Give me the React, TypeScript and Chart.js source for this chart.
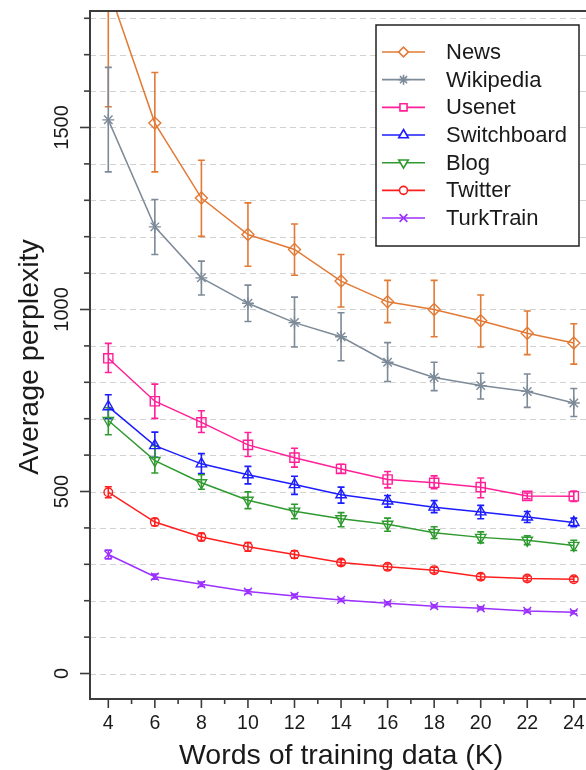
import React, { useEffect, useRef } from "react";
import { Chart, registerables } from "chart.js";
import * as helpers from "chart.js/helpers";

Chart.register(...registerables);

const xValues = [4, 6, 8, 10, 12, 14, 16, 18, 20, 22, 24];
const seriesNames = ["News", "Wikipedia", "Usenet", "Switchboard", "Blog", "Twitter", "TurkTrain"];

const newsMean = [1884, 1512, 1306, 1206, 1165, 1078, 1021, 1000, 969, 935, 908];
const newsLow = [1557, 1378, 1201, 1119, 1094, 1007, 964, 925, 897, 876, 850];
const newsHigh = [2210, 1651, 1410, 1293, 1235, 1151, 1080, 1080, 1040, 996, 961];

const wikiMean = [1521, 1227, 1087, 1017, 964, 925, 855, 813, 791, 775, 743];
const wikiLow = [1378, 1151, 1040, 967, 897, 859, 802, 777, 754, 731, 706];
const wikiHigh = [1665, 1302, 1133, 1067, 1034, 991, 909, 855, 825, 823, 783];

const usenetMean = [866, 748, 690, 628, 593, 562, 533, 524, 512, 488, 487];
const usenetLow = [827, 701, 662, 596, 567, 550, 510, 508, 483, 480, 473];
const usenetHigh = [907, 795, 722, 662, 619, 575, 555, 543, 537, 496, 501];

const switchMean = [733, 626, 576, 546, 519, 491, 474, 457, 444, 430, 415];
const switchLow = [700, 594, 549, 521, 492, 468, 457, 442, 425, 415, 403];
const switchHigh = [766, 663, 604, 569, 542, 512, 489, 475, 462, 445, 427];

const blogMean = [695, 585, 524, 476, 446, 425, 410, 387, 374, 366, 352];
const blogLow = [656, 551, 506, 453, 425, 403, 391, 371, 359, 354, 338];
const blogHigh = [730, 626, 546, 499, 465, 442, 427, 403, 389, 378, 366];

const twitterMean = [498, 416, 375, 348, 327, 305, 293, 284, 266, 261, 259];
const twitterLow = [483, 406, 365, 336, 317, 297, 285, 276, 258, 254, 252];
const twitterHigh = [513, 426, 385, 360, 337, 313, 301, 292, 274, 268, 266];

const turkMean = [327, 266, 245, 225, 213, 202, 193, 185, 179, 172, 168];
const turkLow = [315, 259, 239, 220, 208, 198, 189, 181, 175, 168, 164];
const turkHigh = [339, 273, 251, 230, 218, 206, 197, 189, 183, 176, 172];

const yTickLabels = [0, 500, 1000, 1500];
const yMinorTicks = [0, 100, 200, 300, 400, 500, 600, 700, 800, 900, 1000, 1100, 1200, 1300, 1400, 1500, 1600, 1700, 1800];
const xTickLabels = [4, 6, 8, 10, 12, 14, 16, 18, 20, 22, 24];
const xMinorTicks = [5, 7, 9, 11, 13, 15, 17, 19, 21, 23];

const xTitle = "Words of training data (K)";
const yTitle = "Average perplexity";

const FONT = "'Liberation Sans', Arial, Helvetica, sans-serif";

type Style = { color: string; pointStyle: string; rotation: number; radius: number; legendRadius: number };
const styles: Style[] = [
  { color: "#e27a36", pointStyle: "rectRot", rotation: 0, radius: 6, legendRadius: 4.8 },
  { color: "#7d8a98", pointStyle: "star", rotation: 0, radius: 6, legendRadius: 5 },
  { color: "#ff1f96", pointStyle: "rect", rotation: 0, radius: 6.5, legendRadius: 5 },
  { color: "#1c1cff", pointStyle: "triangle", rotation: 0, radius: 6, legendRadius: 5.5 },
  { color: "#2f9a2f", pointStyle: "triangle", rotation: 180, radius: 6, legendRadius: 5.5 },
  { color: "#ff1e1e", pointStyle: "circle", rotation: 0, radius: 4.3, legendRadius: 4 },
  { color: "#9b30ff", pointStyle: "crossRot", rotation: 0, radius: 5.5, legendRadius: 5.5 },
];

const means = [newsMean, wikiMean, usenetMean, switchMean, blogMean, twitterMean, turkMean];
const lows = [newsLow, wikiLow, usenetLow, switchLow, blogLow, twitterLow, turkLow];
const highs = [newsHigh, wikiHigh, usenetHigh, switchHigh, blogHigh, twitterHigh, turkHigh];

const decorPlugin = {
  id: "decor",
  beforeDatasetsDraw(chart: any) {
    const { ctx, chartArea: a, scales } = chart;
    const x = scales.x;
    const y = scales.y;
    ctx.save();
    // dashed gridlines
    ctx.strokeStyle = "#d2d2d2";
    ctx.lineWidth = 1;
    ctx.setLineDash([6, 4]);
    for (const v of yMinorTicks) {
      const py = Math.round(y.getPixelForValue(v)) + 0.5;
      ctx.beginPath();
      ctx.moveTo(a.left, py);
      ctx.lineTo(a.right, py);
      ctx.stroke();
    }
    ctx.setLineDash([]);
    // error bars
    ctx.beginPath();
    ctx.rect(a.left, a.top, a.right - a.left, a.bottom - a.top);
    ctx.clip();
    chart.data.datasets.forEach((ds: any) => {
      ctx.strokeStyle = ds.borderColor;
      ctx.lineWidth = 1.6;
      ds.data.forEach((pt: any, i: number) => {
        const px = x.getPixelForValue(pt.x);
        const pl = y.getPixelForValue(ds.errLow[i]);
        const ph = y.getPixelForValue(ds.errHigh[i]);
        ctx.beginPath();
        ctx.moveTo(px, pl);
        ctx.lineTo(px, ph);
        ctx.moveTo(px - 3.5, pl);
        ctx.lineTo(px + 3.5, pl);
        ctx.moveTo(px - 3.5, ph);
        ctx.lineTo(px + 3.5, ph);
        ctx.stroke();
      });
    });
    ctx.restore();
  },
  afterDatasetsDraw(chart: any) {
    const { ctx, chartArea: a, scales } = chart;
    const x = scales.x;
    const y = scales.y;
    ctx.save();
    // frame
    ctx.strokeStyle = "#3c3c3c";
    ctx.lineWidth = 2;
    ctx.beginPath();
    ctx.rect(a.left, a.top, a.right - a.left, a.bottom - a.top);
    ctx.stroke();
    // y ticks
    ctx.lineWidth = 1.6;
    for (const v of yMinorTicks) {
      const py = y.getPixelForValue(v);
      const len = yTickLabels.includes(v) ? 10 : 6;
      ctx.beginPath();
      ctx.moveTo(a.left, py);
      ctx.lineTo(a.left - len, py);
      ctx.stroke();
    }
    // x ticks
    for (const v of xTickLabels) {
      const px = x.getPixelForValue(v);
      ctx.beginPath();
      ctx.moveTo(px, a.bottom);
      ctx.lineTo(px, a.bottom + 9);
      ctx.stroke();
    }
    for (const v of xMinorTicks) {
      const px = x.getPixelForValue(v);
      ctx.beginPath();
      ctx.moveTo(px, a.bottom);
      ctx.lineTo(px, a.bottom + 5);
      ctx.stroke();
    }
    ctx.fillStyle = "#1a1a1a";
    // x tick labels
    ctx.font = `19.5px ${FONT}`;
    ctx.textAlign = "center";
    ctx.textBaseline = "alphabetic";
    for (const v of xTickLabels) {
      ctx.fillText(String(v), x.getPixelForValue(v), a.bottom + 30);
    }
    // y tick labels (rotated)
    ctx.font = `20px ${FONT}`;
    for (const v of yTickLabels) {
      ctx.save();
      ctx.translate(a.left - 22, y.getPixelForValue(v));
      ctx.rotate(-Math.PI / 2);
      ctx.fillText(String(v), 0, 0);
      ctx.restore();
    }
    // titles
    ctx.font = `28.5px ${FONT}`;
    ctx.textBaseline = "middle";
    ctx.fillText(xTitle, (a.left + a.right) / 2, 756);
    ctx.save();
    ctx.translate(38, (a.top + a.bottom) / 2 + 2);
    ctx.rotate(-Math.PI / 2);
    ctx.textBaseline = "alphabetic";
    ctx.fillText(yTitle, 0, 0);
    ctx.restore();

    // legend
    const lx = 376, ly = 25, lw = 203, lh = 221;
    ctx.fillStyle = "#ffffff";
    ctx.fillRect(lx, ly, lw, lh);
    ctx.strokeStyle = "#222222";
    ctx.lineWidth = 1.5;
    ctx.strokeRect(lx, ly, lw, lh);
    ctx.font = `22px ${FONT}`;
    ctx.textAlign = "left";
    ctx.textBaseline = "middle";
    chart.data.datasets.forEach((ds: any, i: number) => {
      const ry = 52 + i * 27.67;
      const st = styles[i];
      ctx.strokeStyle = st.color;
      ctx.lineWidth = 1.6;
      ctx.beginPath();
      ctx.moveTo(382, ry);
      ctx.lineTo(425, ry);
      ctx.stroke();
      ctx.fillStyle = "#ffffff";
      helpers.drawPoint(ctx, { pointStyle: st.pointStyle, rotation: st.rotation, radius: st.legendRadius, borderWidth: 1.4 } as any, 403.5, ry);
      ctx.fillStyle = "#1a1a1a";
      ctx.fillText(ds.label, 446, ry + 1);
    });
    ctx.restore();
  },
};

export default function App() {
  const ref = useRef<HTMLCanvasElement | null>(null);
  useEffect(() => {
    if (!ref.current) return;
    const datasets = seriesNames.map((name, i) => ({
      label: name,
      data: xValues.map((xv, j) => ({ x: xv, y: means[i][j] })),
      errLow: lows[i],
      errHigh: highs[i],
      borderColor: styles[i].color,
      backgroundColor: "rgba(255,255,255,0)",
      borderWidth: 1.5,
      pointStyle: styles[i].pointStyle,
      pointRotation: styles[i].rotation,
      pointRadius: styles[i].radius,
      pointBorderWidth: 1.4,
      pointBorderColor: styles[i].color,
      pointBackgroundColor: "rgba(255,255,255,0)",
      tension: 0,
    }));
    const chart = new Chart(ref.current, {
      type: "line",
      data: { datasets: datasets as any },
      options: {
        animation: false,
        responsive: false,
        devicePixelRatio: 1,
        layout: { padding: { left: 90, top: 11, right: 6, bottom: 71 } },
        scales: {
          x: { type: "linear", min: 3.214, max: 24.786, display: false },
          y: { type: "linear", min: -70, max: 1820, display: false },
        },
        plugins: { legend: { display: false }, tooltip: { enabled: false } },
        events: [],
      },
      plugins: [decorPlugin],
    });
    return () => chart.destroy();
  }, []);
  return (
    <div style={{ position: "absolute", left: 0, top: 0, width: 586, height: 770, overflow: "hidden", background: "#fff" }}>
      <canvas ref={ref} width={600} height={770} style={{ width: 600, height: 770, display: "block" }} />
    </div>
  );
}
